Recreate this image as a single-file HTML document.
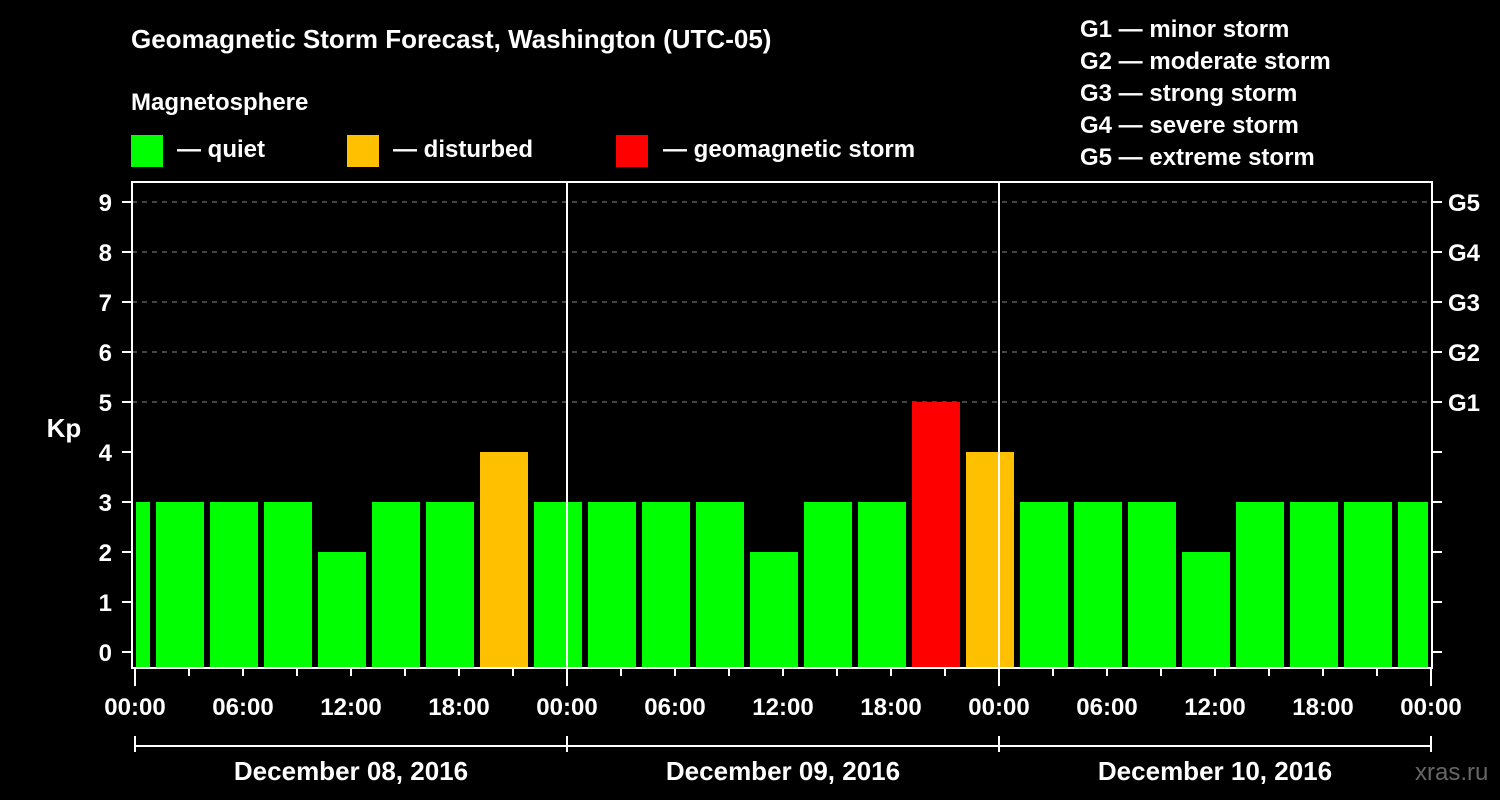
<!DOCTYPE html>
<html><head><meta charset="utf-8"><style>
body{margin:0;background:#000;}
svg{display:block;font-family:"Liberation Sans",Arial,sans-serif;font-weight:bold;}
</style></head><body>
<svg width="1500" height="800" viewBox="0 0 1500 800">
<rect width="1500" height="800" fill="#000"/>
<text x="131" y="48" fill="#fff" font-size="26">Geomagnetic Storm Forecast, Washington (UTC-05)</text>
<text x="131" y="110" fill="#fff" font-size="24">Magnetosphere</text>
<g><rect x="131" y="135" width="32" height="32" fill="#00ff00"/><text x="177" y="157" fill="#fff" font-size="24">— quiet</text></g>
<g><rect x="347" y="135" width="32" height="32" fill="#ffc000"/><text x="393" y="157" fill="#fff" font-size="24">— disturbed</text></g>
<g><rect x="616" y="135" width="32" height="32" fill="#ff0000"/><text x="663" y="157" fill="#fff" font-size="24">— geomagnetic storm</text></g>
<g fill="#fff" font-size="24">
<text x="1080" y="37">G1 — minor storm</text>
<text x="1080" y="69">G2 — moderate storm</text>
<text x="1080" y="101">G3 — strong storm</text>
<text x="1080" y="133">G4 — severe storm</text>
<text x="1080" y="165">G5 — extreme storm</text>
</g>
<text x="64" y="437" fill="#fff" font-size="26" text-anchor="middle">Kp</text>
<text x="1415" y="780" fill="#666" font-size="24" font-weight="normal">xras.ru</text>
<g id="chart"></g>
</svg>
<script>
const kpValues=[3,3,3,3,2,3,3,4,3,3,3,3,2,3,3,5,4,3,3,3,2,3,3,3,3];
const yTicks=[0,1,2,3,4,5,6,7,8,9];
const gLabels=["","","","","","G1","G2","G3","G4","G5"];
const xTickLabels=["00:00","06:00","12:00","18:00","00:00","06:00","12:00","18:00","00:00","06:00","12:00","18:00","00:00"];
const dayLabels=["December 08, 2016","December 09, 2016","December 10, 2016"];
const firstBlockHour=-2;
const NS="http://www.w3.org/2000/svg";
const g=document.getElementById('chart');
const L=132,R=1432,T=182,B=668;
const x=h=>135+h*18;
const y=k=>652-50*k;
function el(t,a){const e=document.createElementNS(NS,t);for(const k in a)e.setAttribute(k,a[k]);g.appendChild(e);return e;}
// gridlines
yTicks.forEach(k=>{if(k>=5){const l=el('line',{x1:L,x2:R,y1:y(k),y2:y(k),stroke:'#888','stroke-dasharray':'5,5'});

}});
// bars
kpValues.forEach((v,i)=>{
 const s=firstBlockHour+3*i;
 let x0=Math.max(x(s)+3,L+4), x1=Math.min(x(s+3)-3,R-4);
 const col=v>=5?'#ff0000':(v>=4?'#ffc000':'#00ff00');
 const r=el('rect',{x:x0,y:y(v),width:x1-x0,height:B-y(v),fill:col});
 
 
});
// day separators
[1,2].forEach(d=>{const l=el('line',{x1:x(24*d),x2:x(24*d),y1:T,y2:B,stroke:'#fff','stroke-width':2});

});
// frame
const fr=el('rect',{x:L,y:T,width:R-L,height:B-T,fill:'none',stroke:'#fff','stroke-width':2});


// y ticks
yTicks.forEach((k,i)=>{
 el('line',{x1:122,x2:L,y1:y(k),y2:y(k),stroke:'#fff','stroke-width':2});
 el('line',{x1:R,x2:1442,y1:y(k),y2:y(k),stroke:'#fff','stroke-width':2});
 const t=el('text',{x:112,y:y(k)+9,fill:'#fff','font-size':24,'text-anchor':'end'});t.textContent=k;
 
 
 if(gLabels[i]){const tg=el('text',{x:1448,y:y(k)+9,fill:'#fff','font-size':24});tg.textContent=gLabels[i];
 
 }
});
// x ticks
for(let h=0;h<=72;h+=3){el('line',{x1:x(h),x2:x(h),y1:B,y2:h%24==0?686:676,stroke:'#fff','stroke-width':2});}
xTickLabels.forEach((s,i)=>{const t=el('text',{x:x(i*6),y:715,fill:'#fff','font-size':24,'text-anchor':'middle'});t.textContent=s;
 
 });
// day bracket
el('line',{x1:x(0),x2:x(72),y1:746,y2:746,stroke:'#fff','stroke-width':2});
for(let d=0;d<=3;d++)el('line',{x1:x(24*d),x2:x(24*d),y1:736,y2:752,stroke:'#fff','stroke-width':2});
dayLabels.forEach((s,i)=>{const t=el('text',{x:x(24*i+12),y:780,fill:'#fff','font-size':26,'text-anchor':'middle'});t.textContent=s;
 
 });
</script>
</body></html>
